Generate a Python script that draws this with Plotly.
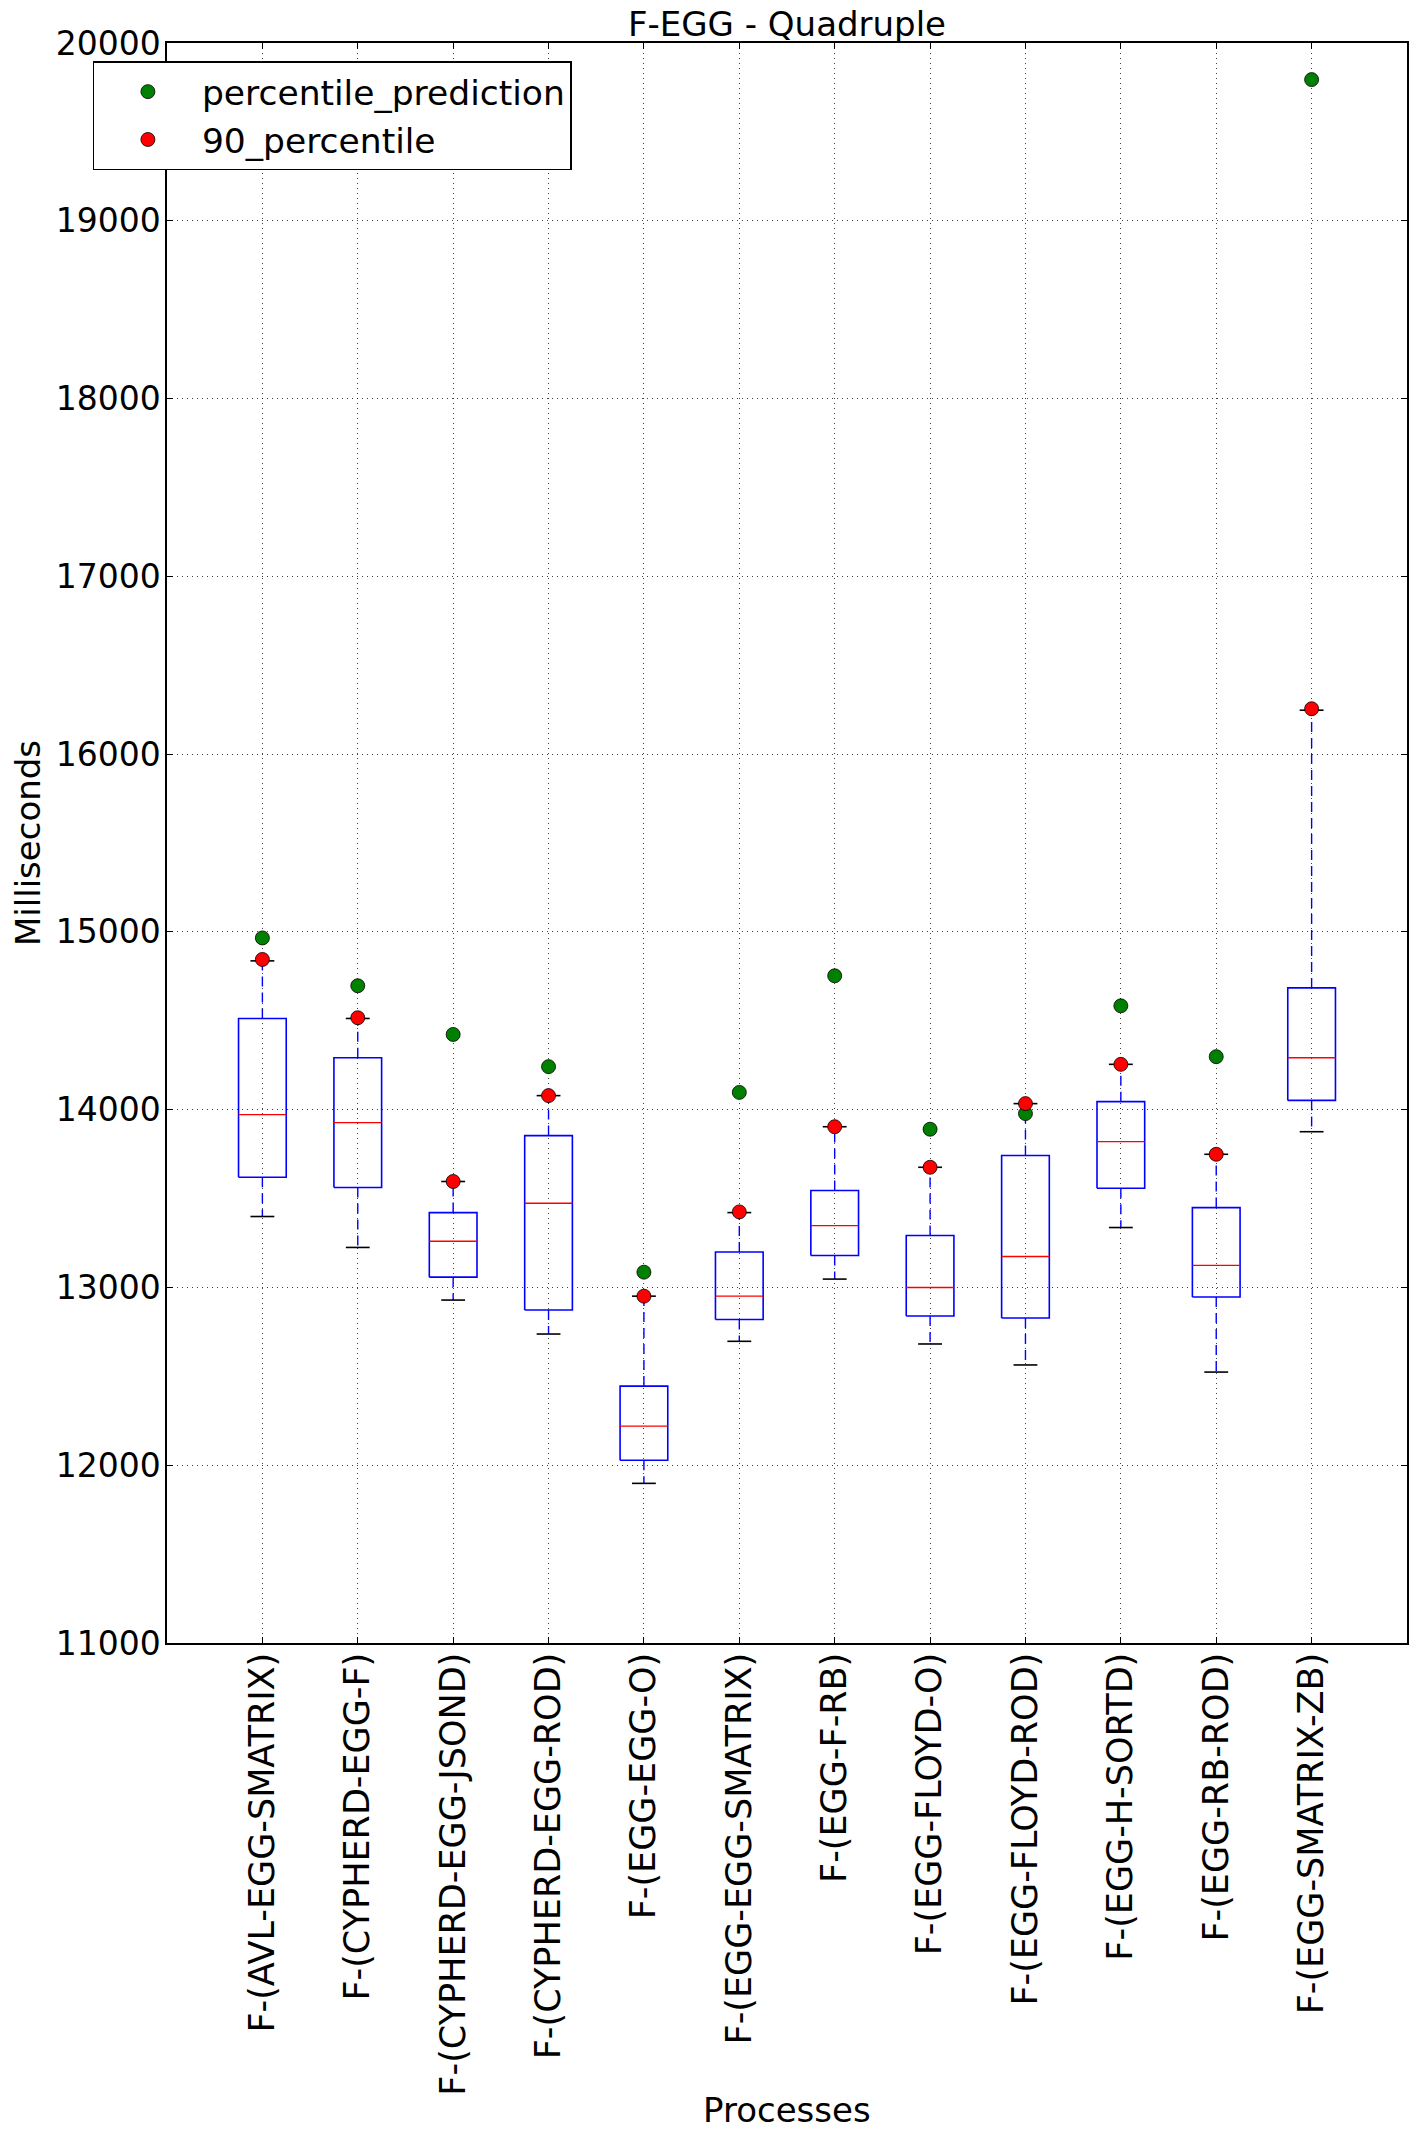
import plotly.graph_objects as go

categories = ["F-(AVL-EGG-SMATRIX)", "F-(CYPHERD-EGG-F)", "F-(CYPHERD-EGG-JSOND)",
              "F-(CYPHERD-EGG-ROD)", "F-(EGG-EGG-O)", "F-(EGG-EGG-SMATRIX)",
              "F-(EGG-F-RB)", "F-(EGG-FLOYD-O)", "F-(EGG-FLOYD-ROD)",
              "F-(EGG-H-SORTD)", "F-(EGG-RB-ROD)", "F-(EGG-SMATRIX-ZB)"]
whisker_low = [13399, 13225, 12929, 12738, 11898, 12697, 13047, 12682, 12564, 13337, 12524, 13876]
q1 = [13620, 13562, 13058, 12873, 12028, 12820, 13180, 12839, 12828, 13558, 12946, 14052]
median = [13972, 13927, 13260, 13474, 12220, 12951, 13348, 13000, 13174, 13820, 13124, 14292]
q3 = [14513, 14292, 13421, 13854, 12445, 13199, 13545, 13292, 13742, 14045, 13449, 14685]
whisker_high = [14837, 14513, 13596, 14079, 12951, 13421, 13904, 13676, 14034, 14255, 13749, 16247]
percentile_90 = [14845, 14517, 13596, 14079, 12951, 13425, 13904, 13676, 14034, 14255, 13749, 16255]
percentile_prediction = [14966, 14697, 14423, 14242, 13086, 14097, 14753, 13890, 13978, 14584, 14298, 19794]
y_ticks = [11000, 12000, 13000, 14000, 15000, 16000, 17000, 18000, 19000, 20000]

pos = list(range(1, len(categories) + 1))
BW = 0.25   # half box width
CW = 0.125  # half cap width

bx, by, mx, my, wx, wy, cx, cy = [], [], [], [], [], [], [], []
for i, p in enumerate(pos):
    bx += [p - BW, p + BW, p + BW, p - BW, p - BW, None]
    by += [q1[i], q1[i], q3[i], q3[i], q1[i], None]
    mx += [p - BW, p + BW, None]
    my += [median[i], median[i], None]
    wx += [p, p, None, p, p, None]
    wy += [q3[i], whisker_high[i], None, q1[i], whisker_low[i], None]
    cx += [p - CW, p + CW, None, p - CW, p + CW, None]
    cy += [whisker_high[i], whisker_high[i], None, whisker_low[i], whisker_low[i], None]

fig = go.Figure()
fig.add_trace(go.Scatter(x=wx, y=wy, mode="lines", showlegend=False, hoverinfo="skip",
                         line=dict(color="#0000ff", width=1.4, dash="10px,6px")))
fig.add_trace(go.Scatter(x=cx, y=cy, mode="lines", showlegend=False, hoverinfo="skip",
                         line=dict(color="#000000", width=1.6)))
fig.add_trace(go.Scatter(x=bx, y=by, mode="lines", showlegend=False, hoverinfo="skip",
                         line=dict(color="#0000ff", width=1.6)))
fig.add_trace(go.Scatter(x=mx, y=my, mode="lines", showlegend=False, hoverinfo="skip",
                         line=dict(color="#ff0000", width=1.4)))
fig.add_trace(go.Scatter(x=pos, y=percentile_prediction, mode="markers", name="percentile_prediction",
                         legendgroup="a",
                         marker=dict(color="#008000", size=14, line=dict(color="#000000", width=0.8))))
fig.add_trace(go.Scatter(x=pos, y=percentile_90, mode="markers", name="90_percentile",
                         legendgroup="b",
                         marker=dict(color="#ff0000", size=14, line=dict(color="#000000", width=0.8))))

FONT = "DejaVu Sans"
W, H = 1417, 2138
L, R, T, B = 167, 10, 43, 495
PLOT_H = H - T - B
fig.update_layout(
    width=W, height=H,
    margin=dict(l=L, r=R, t=T, b=B, autoexpand=False),
    paper_bgcolor="white", plot_bgcolor="white",
    font=dict(family=FONT, size=34, color="black"),
    title=dict(text="F-EGG - Quadruple", x=(L + (W - R)) / 2 / W, xanchor="center",
               y=1 - 24 / H, yanchor="middle", yref="container",
               font=dict(family=FONT, size=34, color="black")),
    showlegend=True,
    legend=dict(x=-0.06, y=0.9885, xanchor="left", yanchor="top",
                bgcolor="white", bordercolor="black", borderwidth=1.3,
                font=dict(family=FONT, size=34.5, color="black"),
                itemwidth=98, tracegroupgap=18, traceorder="normal"),
    annotations=[dict(text="Processes", xref="paper", yref="paper", x=0.5,
                      y=-(2110 - (H - B)) / PLOT_H, xanchor="center", yanchor="middle",
                      showarrow=False, font=dict(family=FONT, size=34, color="black"))],
)
fig.update_xaxes(
    range=[0, 13], tickmode="array", tickvals=pos, ticktext=categories, tickangle=-90,
    tickfont=dict(family=FONT, size=35, color="black"),
    ticks="inside", ticklen=6, tickwidth=1, tickcolor="black",
    showline=True, linecolor="black", linewidth=1.5, mirror="ticks",
    showgrid=True, gridcolor="rgba(0,0,0,0.75)", gridwidth=1, griddash="1px,4px",
    zeroline=False, ticklabelstandoff=-6,
    automargin=False,
)
fig.update_yaxes(
    range=[11000, 20000], tickmode="array", tickvals=y_ticks,
    ticktext=[str(v) for v in y_ticks],
    tickfont=dict(family=FONT, size=33, color="black"),
    ticks="inside", ticklen=6, tickwidth=1, tickcolor="black",
    showline=True, linecolor="black", linewidth=1.5, mirror="ticks",
    showgrid=True, gridcolor="rgba(0,0,0,0.75)", gridwidth=1, griddash="1px,4px",
    zeroline=False, ticklabelstandoff=-2,
    title=dict(text="Milliseconds", standoff=5, font=dict(family=FONT, size=34, color="black")),
    automargin=False,
)
fig.write_html("out.html", config={"displayModeBar": False},
               post_script="document.body.style.margin='0';document.body.style.overflow='hidden';")
